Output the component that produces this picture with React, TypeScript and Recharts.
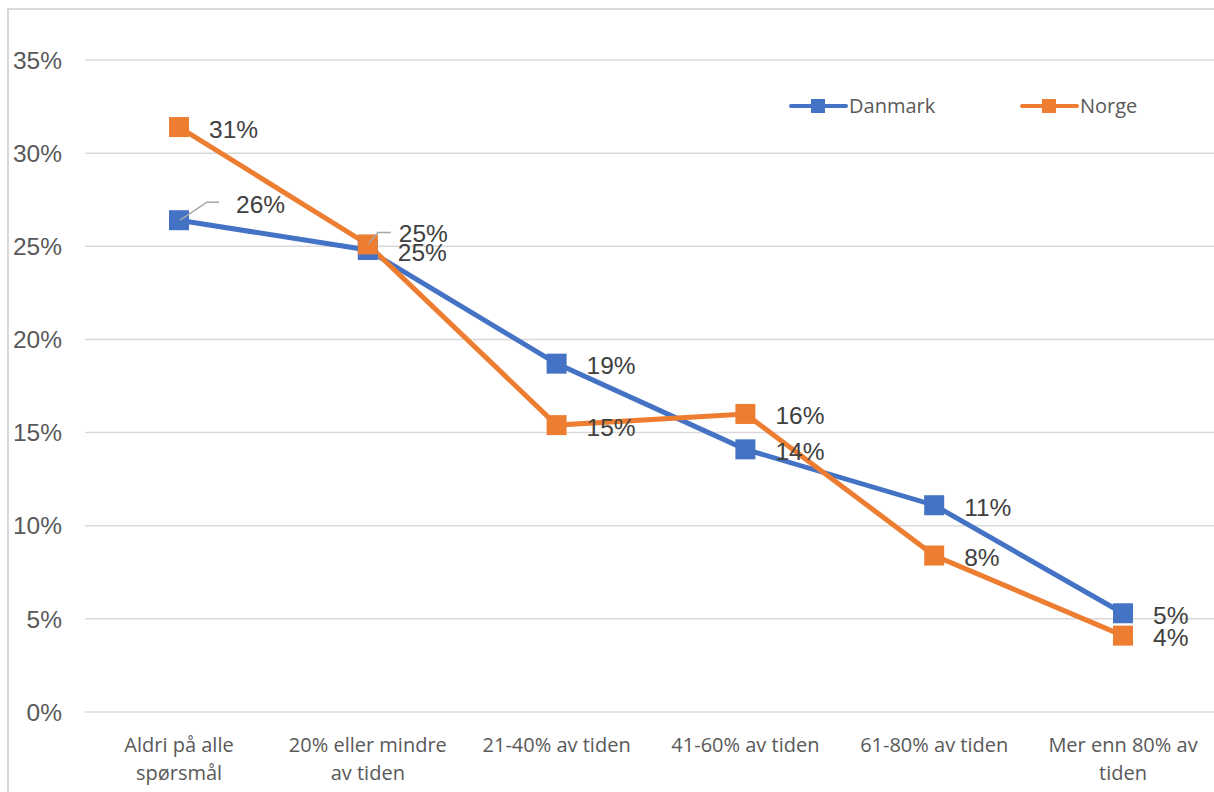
import { LineChart, Line, XAxis, YAxis, CartesianGrid, Legend, LabelList } from "recharts";

const CATEGORIES = [
  "Aldri på alle spørsmål",
  "20% eller mindre av tiden",
  "21-40% av tiden",
  "41-60% av tiden",
  "61-80% av tiden",
  "Mer enn 80% av tiden",
];
const DANMARK = [26.4, 24.8, 18.7, 14.1, 11.1, 5.3];
const NORGE = [31.4, 25.1, 15.4, 16.0, 8.4, 4.1];
const Y_TICKS = [0, 5, 10, 15, 20, 25, 30, 35];

const SERIES = [
  { key: "Danmark", color: "#4472C4" },
  { key: "Norge", color: "#ED7D31" },
];

// label placement tweaks (Excel moved a couple of labels and drew leader lines)
const LABEL_TWEAKS: Record<string, Record<number, { dx: number; dy: number; leader: number[][] }>> = {
  Danmark: { 0: { dx: 57, dy: -16, leader: [[1, 0], [28, -18], [40, -18]] } },
  Norge: { 1: { dx: 31, dy: -11, leader: [[1, -1], [10, -12], [23, -12]] } },
};

const data = CATEGORIES.map((name, i) => ({ name, Danmark: DANMARK[i], Norge: NORGE[i] }));

const NUM_FONT = "'Liberation Sans', Arial, sans-serif";
const TXT_FONT = "'Open Sans', sans-serif";

let ctx: CanvasRenderingContext2D | null = null;
function wrap(text: string, maxWidth: number, font: string) {
  if (!ctx) ctx = document.createElement("canvas").getContext("2d");
  if (!ctx) return [text];
  ctx.font = font;
  const lines: string[] = [];
  let cur = "";
  for (const w of text.split(" ")) {
    const test = cur ? cur + " " + w : w;
    if (cur && ctx.measureText(test).width > maxWidth) {
      lines.push(cur);
      cur = w;
    } else cur = test;
  }
  if (cur) lines.push(cur);
  return lines;
}

function SquareDot(color: string) {
  return (props: any) => {
    const { cx, cy, index } = props;
    if (cx == null || cy == null) return null;
    return <rect key={index} x={cx - 10} y={cy - 10} width={20} height={20} fill={color} />;
  };
}

function makeLabel(series: string) {
  return (props: any) => {
    const { x, y, value, index } = props;
    const tw = LABEL_TWEAKS[series]?.[index];
    const dx = tw ? tw.dx : 30;
    const dy = tw ? tw.dy : 2;
    return (
      <g key={index}>
        {tw && (
          <polyline
            points={tw.leader.map(([a, b]) => `${x + a},${y + b}`).join(" ")}
            fill="none"
            stroke="#a6a6a6"
            strokeWidth={1.5}
          />
        )}
        <text
          x={x + dx}
          y={y + dy}
          dominantBaseline="central"
          fill="#404040"
          fontSize={24.5}
          fontFamily={NUM_FONT}
        >
          {`${Math.round(value)}%`}
        </text>
      </g>
    );
  };
}

function CategoryTick(props: any) {
  const { x, y, payload } = props;
  const lines = wrap(String(payload.value), 172, `20px ${TXT_FONT}`);
  return (
    <text x={x} y={y + 40} textAnchor="middle" fill="#595959" fontSize={20} fontFamily={TXT_FONT}>
      {lines.map((l, i) => (
        <tspan key={i} x={x} dy={i === 0 ? 0 : 28}>
          {l}
        </tspan>
      ))}
    </text>
  );
}

function renderLegend() {
  return (
    <div style={{ display: "flex" }}>
      {SERIES.map((s) => (
        <div key={s.key} style={{ display: "flex", alignItems: "center", width: 231 }}>
          <svg width={60} height={24}>
            <line x1={2} y1={12} x2={57} y2={12} stroke={s.color} strokeWidth={4} strokeLinecap="round" />
            <rect x={22} y={5} width={14} height={14} fill={s.color} />
          </svg>
          <span style={{ fontFamily: TXT_FONT, fontSize: 20, color: "#595959", lineHeight: "24px" }}>
            {s.key}
          </span>
        </div>
      ))}
    </div>
  );
}

export default function App() {
  return (
    <div
      style={{
        position: "absolute",
        left: 0,
        top: 0,
        width: 1214,
        height: 792,
        overflow: "hidden",
        background: "#fff",
      }}
    >
      <div
        style={{
          position: "absolute",
          left: 7,
          top: 8,
          width: 1300,
          height: 1000,
          border: "2px solid #d9d9d9",
          boxSizing: "border-box",
        }}
      />
      <div style={{ position: "absolute", left: 0, top: 0 }}>
        <LineChart width={1217} height={792} data={data} margin={{ top: 60, right: 0, bottom: 0, left: 0 }}>
          <CartesianGrid vertical={false} stroke="#d9d9d9" strokeWidth={1.5} />
          <XAxis
            dataKey="name"
            axisLine={false}
            tickLine={false}
            tickSize={0}
            tickMargin={0}
            height={80}
            interval={0}
            padding={{ left: 94, right: 94 }}
            tick={<CategoryTick />}
          />
          <YAxis
            domain={[0, 35]}
            ticks={Y_TICKS}
            tickFormatter={(v: number) => `${v}%`}
            width={85}
            axisLine={false}
            tickLine={false}
            tickSize={0}
            tickMargin={23}
            tick={{ fill: "#595959", fontSize: 24.5, fontFamily: NUM_FONT }}
          />
          <Legend
            layout="horizontal"
            align="center"
            verticalAlign="middle"
            content={renderLegend}
            wrapperStyle={{ top: 94, left: 789, width: 480 }}
          />
          {SERIES.map((s) => (
            <Line
              key={s.key}
              dataKey={s.key}
              stroke={s.color}
              strokeWidth={5}
              dot={SquareDot(s.color)}
              activeDot={false}
              isAnimationActive={false}
            >
              <LabelList dataKey={s.key} content={makeLabel(s.key)} />
            </Line>
          ))}
        </LineChart>
      </div>
    </div>
  );
}
